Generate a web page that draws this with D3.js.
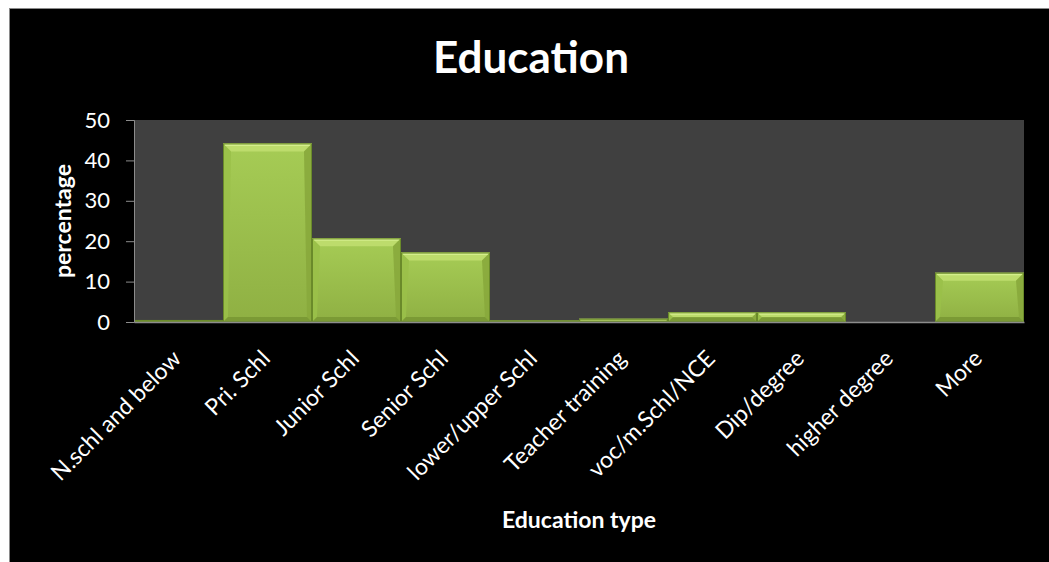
<!DOCTYPE html>
<html>
<head>
<meta charset="utf-8">
<script src="https://cdn.jsdelivr.net/npm/d3@7"></script>
<style>
  html, body { margin: 0; padding: 0; background: #ffffff; }
  svg { display: block; }
  text { font-family: Lato, "Open Sans", sans-serif; fill: #ffffff; }
</style>
</head>
<body>
<svg id="chart" width="1049" height="562"></svg>
<script>
// Share of respondents by highest education level (percentage)
const categories = [
  "N.schl and below", "Pri. Schl", "Junior Schl", "Senior Schl",
  "lower/upper Schl", "Teacher training", "voc/m.Schl/NCE",
  "Dip/degree", "higher degree", "More"
];
const percentages = [0.5, 44.2, 20.7, 17.2, 0.4, 0.8, 2.4, 2.4, 0, 12.2];
const yTicks = [0, 10, 20, 30, 40, 50];

const chartTitle = "Education";
const xTitle = "Education type";
const yTitle = "percentage";

const svg = d3.select("#chart");
const W = 1049, H = 562;

// dark chart panel with a thin grey edge
svg.append("rect")
  .attr("x", 9.5).attr("y", 8.5)
  .attr("width", W - 9).attr("height", H - 8)
  .attr("fill", "#000000")
  .attr("stroke", "#8a8a8a").attr("stroke-width", 1);

const plot = { left: 134, right: 1024, top: 120, bottom: 322 };

const x = d3.scaleBand()
  .domain(categories)
  .range([plot.left, plot.right])
  .paddingInner(0).paddingOuter(0);

const y = d3.scaleLinear()
  .domain([0, 50])
  .range([plot.bottom, plot.top]);

// plot area background
svg.append("rect")
  .attr("x", plot.left).attr("y", plot.top)
  .attr("width", plot.right - plot.left)
  .attr("height", plot.bottom - plot.top)
  .attr("fill", "#404040");

// gradients for the bevelled bars
const defs = svg.append("defs");
const face = defs.append("linearGradient")
  .attr("id", "barFace").attr("x1", 0).attr("y1", 0).attr("x2", 0).attr("y2", 1);
face.append("stop").attr("offset", "0%").attr("stop-color", "#a6cc55");
face.append("stop").attr("offset", "100%").attr("stop-color", "#8fb043");

const bars = svg.append("g").attr("class", "bars");
categories.forEach((c, i) => {
  const v = percentages[i];
  if (v <= 0) return;
  const x0 = x(c), x1 = x(c) + x.bandwidth();
  const yTop = y(v), yBot = y(0);
  const h = yBot - yTop;
  const g = bars.append("g");
  g.append("rect")
    .attr("x", x0).attr("y", yTop)
    .attr("width", x1 - x0).attr("height", h)
    .attr("fill", "url(#barFace)");
  const b = Math.min(8, h / 2);
  const bb = Math.min(5, h / 2);
  if (h > 2) {
    // top highlight
    g.append("polygon")
      .attr("points", [[x0, yTop], [x1, yTop], [x1 - b, yTop + b], [x0 + b, yTop + b]].map(p => p.join(",")).join(" "))
      .attr("fill", "#bddc6c");
    g.append("line")
      .attr("x1", x0 + 2).attr("x2", x1 - 2)
      .attr("y1", yTop + 1.5).attr("y2", yTop + 1.5)
      .attr("stroke", "#d4ee8c").attr("stroke-width", Math.min(2, h / 3));
    // left edge
    g.append("polygon")
      .attr("points", [[x0, yTop], [x0 + b, yTop + b], [x0 + bb, yBot - bb], [x0, yBot]].map(p => p.join(",")).join(" "))
      .attr("fill", "#9ac049").attr("opacity", 0.9);
    // right edge
    g.append("polygon")
      .attr("points", [[x1, yTop], [x1 - b, yTop + b], [x1 - bb, yBot - bb], [x1, yBot]].map(p => p.join(",")).join(" "))
      .attr("fill", "#88a83c").attr("opacity", 0.9);
    // bottom shade
    g.append("polygon")
      .attr("points", [[x0, yBot], [x1, yBot], [x1 - bb, yBot - bb], [x0 + bb, yBot - bb]].map(p => p.join(",")).join(" "))
      .attr("fill", "#7b9a35");
  }
  g.append("rect")
    .attr("x", x0 + 0.5).attr("y", yTop + 0.5)
    .attr("width", x1 - x0 - 1).attr("height", Math.max(0, h - 1))
    .attr("fill", "none")
    .attr("stroke", "#6a8a2a").attr("stroke-width", 1);
});

// y axis
const yAxis = svg.append("g")
  .attr("transform", `translate(${plot.left},0)`)
  .call(d3.axisLeft(y).tickValues(yTicks).tickSize(8).tickPadding(16));
yAxis.select(".domain").attr("stroke", "#8c8c8c");
yAxis.selectAll(".tick line").attr("stroke", "#8c8c8c");
yAxis.selectAll(".tick text")
  .attr("font-size", 22).attr("fill", "#ffffff")
  .attr("font-family", "Lato, 'Open Sans', sans-serif");

// x axis
const xAxis = svg.append("g")
  .attr("transform", `translate(0,${plot.bottom})`)
  .call(d3.axisBottom(x).tickSize(0).tickPadding(0));
xAxis.select(".domain").attr("stroke", "#8c8c8c").attr("stroke-width", 1.5);
xAxis.selectAll(".tick text")
  .attr("font-size", 23).attr("fill", "#ffffff")
  .attr("font-family", "Lato, 'Open Sans', sans-serif")
  .attr("text-anchor", "end")
  .attr("dy", 0)
  .attr("transform", "translate(4,38) rotate(-45)");

// titles
svg.append("text")
  .attr("x", 531).attr("y", 73)
  .attr("text-anchor", "middle")
  .attr("font-size", 44).attr("font-weight", "bold")
  .text(chartTitle);

svg.append("text")
  .attr("x", (plot.left + plot.right) / 2).attr("y", 528)
  .attr("text-anchor", "middle")
  .attr("font-size", 23).attr("font-weight", "bold")
  .text(xTitle);

svg.append("text")
  .attr("transform", `translate(71,${(plot.top + plot.bottom) / 2}) rotate(-90)`)
  .attr("text-anchor", "middle")
  .attr("font-size", 23).attr("font-weight", "bold")
  .text(yTitle);
</script>
</body>
</html>
